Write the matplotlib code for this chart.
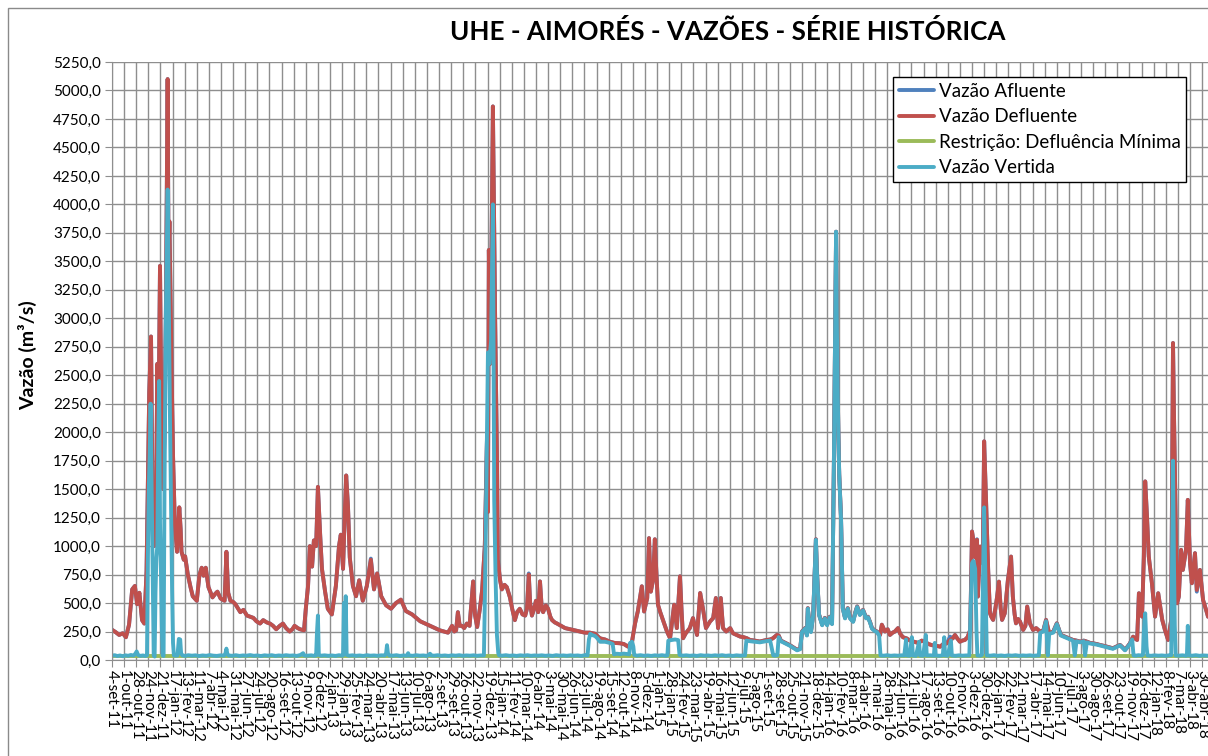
import matplotlib
matplotlib.use("Agg")
import matplotlib.pyplot as plt
from matplotlib.patches import Rectangle
from matplotlib.ticker import FuncFormatter

plt.rcParams['font.family'] = ['Lato', 'DejaVu Sans']

# dias contados a partir de 4-set-11 (primeiro dia da serie)
dia_vazao = [
    0, 8, 16, 24, 31, 38, 45, 51, 56, 61,
    67, 72, 77, 80, 83, 87, 90, 94, 98, 101,
    104, 107, 110, 114, 117, 120, 124, 126, 128, 131,
    133, 136, 140, 145, 150, 153, 155, 160, 163, 169,
    175, 180, 189, 195, 200, 204, 209, 215, 224, 230,
    235, 242, 251, 255, 259, 264, 270, 275, 286, 293,
    301, 308, 315, 322, 330, 337, 345, 352, 359, 366,
    374, 381, 388, 396, 402, 407, 414, 419, 428, 432,
    437, 441, 446, 450, 455, 459, 464, 468, 475, 481,
    490, 499, 506, 510, 515, 519, 522, 526, 530, 537,
    544, 551, 559, 568, 577, 584, 591, 600, 611, 622,
    633, 644, 655, 669, 687, 698, 709, 720, 731, 740,
    749, 758, 763, 767, 771, 775, 780, 785, 791, 797,
    805, 809, 814, 820, 825, 828, 831, 836, 838, 840,
    843, 845, 849, 854, 858, 860, 865, 869, 875, 880,
    887, 892, 898, 903, 909, 915, 921, 925, 929, 932,
    936, 941, 945, 950, 954, 958, 961, 967, 972, 977,
    981, 987, 992, 1001, 1010, 1021, 1032, 1043, 1054, 1065,
    1077, 1082, 1088, 1099, 1110, 1120, 1132, 1141, 1150, 1159,
    1166, 1172, 1181, 1186, 1193, 1197, 1201, 1206, 1210, 1213,
    1217, 1222, 1228, 1237, 1244, 1253, 1259, 1266, 1270, 1273,
    1279, 1288, 1295, 1304, 1311, 1317, 1324, 1333, 1340, 1346,
    1351, 1357, 1362, 1369, 1378, 1384, 1392, 1400, 1408, 1415,
    1422, 1433, 1444, 1458, 1467, 1473, 1482, 1486, 1491, 1496,
    1503, 1511, 1519, 1527, 1534, 1538, 1545, 1549, 1551, 1555,
    1558, 1563, 1569, 1571, 1576, 1583, 1589, 1594, 1600, 1605,
    1609, 1612, 1614, 1616, 1619, 1621, 1625, 1629, 1634, 1640,
    1645, 1652, 1657, 1661, 1667, 1674, 1681, 1685, 1690, 1694,
    1700, 1705, 1712, 1716, 1723, 1729, 1734, 1740, 1745, 1752,
    1757, 1763, 1771, 1779, 1788, 1797, 1805, 1812, 1820, 1828,
    1837, 1846, 1853, 1861, 1868, 1874, 1879, 1884, 1890, 1895,
    1901, 1907, 1913, 1917, 1921, 1925, 1928, 1930, 1935, 1941,
    1944, 1948, 1953, 1957, 1960, 1964, 1969, 1973, 1977, 1981,
    1984, 1990, 1997, 2004, 2008, 2012, 2015, 2020, 2024, 2031,
    2036, 2040, 2046, 2053, 2060, 2069, 2076, 2082, 2089, 2098,
    2106, 2115, 2124, 2133, 2142, 2150, 2158, 2166, 2173, 2180,
    2187, 2195, 2202, 2210, 2218, 2225, 2231, 2240, 2247, 2253,
    2258, 2264, 2269, 2276, 2280, 2285, 2289, 2296, 2300, 2303,
    2307, 2311, 2318, 2325, 2332, 2341, 2347, 2354, 2361, 2363,
    2365, 2367, 2369, 2374, 2378, 2383, 2387, 2394, 2398, 2403,
    2407, 2414, 2418, 2425, 2432, 2441, 2443,
]

vazao_defluente = [
    265, 245, 220, 235, 200, 310, 620, 650, 490, 590,
    350, 320, 780, 1590, 2350, 2840, 1500, 1000, 1300, 2600,
    2200, 3460, 2200, 1500, 2000, 3000, 5100, 3500, 3850, 3000,
    2500, 1800, 1200, 950, 1340, 1150, 950, 880, 910, 750,
    640, 560, 520, 750, 810, 740, 810, 640, 550, 580,
    600, 540, 520, 950, 590, 520, 510, 490, 420, 440,
    390, 380, 370, 340, 320, 350, 330, 320, 300, 270,
    300, 320, 280, 250, 270, 300, 280, 270, 260, 450,
    650, 1000, 820, 1050, 1000, 1520, 1100, 800, 600, 450,
    400, 650, 1000, 1100, 800, 1300, 1620, 1350, 900, 650,
    560, 700, 520, 650, 880, 620, 760, 560, 480, 450,
    500, 530, 430, 400, 340, 320, 300, 280, 260, 250,
    240, 300, 250, 260, 420, 300, 300, 280, 320, 300,
    690, 400, 290, 450, 610, 800, 1000, 1980, 1300, 3600,
    2600, 3200, 4860, 3000, 1800, 880, 700, 620, 660, 640,
    550, 450, 350, 420, 450, 400, 390, 450, 750, 500,
    390, 450, 520, 420, 690, 450, 420, 480, 450, 380,
    350, 330, 320, 300, 280, 270, 260, 250, 240, 240,
    230, 210, 190, 180, 160, 150, 147, 140, 118, 160,
    323, 426, 647, 426, 544, 1070, 600, 700, 1060, 800,
    485, 420, 353, 250, 191, 485, 280, 735, 400, 191,
    235, 280, 368, 220, 588, 456, 280, 338, 368, 544,
    280, 544, 280, 250, 280, 235, 220, 206, 200, 191,
    176, 170, 162, 175, 180, 190, 220, 215, 170, 160,
    145, 130, 110, 90, 100, 250, 280, 220, 455, 300,
    250, 400, 1060, 810, 400, 310, 370, 310, 380, 320,
    1690, 2900, 3760, 2870, 2000, 1630, 1250, 455, 370, 455,
    370, 340, 420, 470, 400, 440, 370, 380, 330, 280,
    260, 250, 220, 310, 250, 270, 220, 240, 250, 280,
    230, 200, 190, 170, 160, 150, 170, 160, 140, 130,
    125, 117, 140, 146, 176, 190, 220, 190, 160, 170,
    176, 200, 264, 1128, 1025, 900, 1055, 557, 996, 850,
    1920, 1435, 791, 410, 380, 352, 450, 557, 688, 450,
    352, 410, 703, 908, 557, 400, 322, 360, 337, 264,
    300, 469, 322, 264, 280, 249, 260, 352, 234, 249,
    322, 220, 205, 190, 176, 170, 161, 170, 161, 150,
    146, 140, 132, 125, 117, 110, 103, 120, 132, 110,
    88, 120, 146, 205, 190, 176, 586, 381, 900, 1568,
    1260, 908, 674, 381, 586, 352, 264, 176, 352, 1500,
    2783, 2200, 1729, 498, 557, 967, 791, 967, 1406, 850,
    674, 938, 615, 791, 527, 410, 380,
]

vazao_afluente = [
    265, 245, 220, 235, 200, 310, 620, 650, 490, 590,
    350, 320, 780, 1590, 2350, 2840, 1500, 1000, 1300, 2600,
    2200, 3460, 2200, 1500, 2000, 3000, 5100, 3500, 3850, 3000,
    2500, 1800, 1200, 950, 1340, 1150, 950, 880, 910, 750,
    640, 560, 520, 750, 810, 740, 810, 640, 550, 580,
    600, 540, 520, 950, 590, 520, 510, 490, 420, 440,
    390, 380, 370, 340, 320, 350, 330, 320, 300, 270,
    300, 320, 280, 250, 270, 300, 280, 270, 260, 450,
    650, 1000, 820, 1050, 1000, 1520, 1100, 800, 600, 450,
    400, 650, 1000, 1100, 800, 1300, 1620, 1350, 900, 650,
    560, 700, 520, 650, 890, 620, 760, 560, 480, 450,
    500, 530, 430, 400, 340, 320, 300, 280, 260, 250,
    240, 300, 250, 260, 420, 300, 300, 280, 320, 300,
    690, 400, 290, 450, 610, 800, 1000, 1980, 1300, 3600,
    2600, 3200, 4860, 3000, 1800, 880, 700, 620, 660, 640,
    550, 450, 350, 420, 450, 400, 390, 450, 760, 500,
    390, 450, 520, 420, 690, 450, 420, 480, 450, 380,
    350, 330, 320, 300, 280, 270, 260, 250, 240, 240,
    230, 210, 190, 180, 160, 150, 147, 140, 118, 160,
    323, 426, 647, 426, 544, 1070, 600, 700, 1060, 800,
    485, 420, 353, 250, 191, 485, 280, 735, 400, 191,
    235, 280, 368, 220, 588, 456, 280, 338, 368, 544,
    280, 544, 280, 250, 280, 235, 220, 206, 200, 191,
    176, 170, 162, 175, 180, 190, 220, 215, 170, 160,
    145, 130, 110, 90, 100, 250, 280, 220, 455, 300,
    250, 400, 1060, 810, 400, 310, 370, 310, 380, 320,
    1690, 2900, 3760, 2870, 2000, 1630, 1250, 455, 370, 455,
    370, 340, 420, 470, 400, 440, 370, 380, 330, 280,
    260, 250, 220, 310, 250, 270, 220, 240, 250, 280,
    230, 200, 190, 170, 160, 150, 170, 160, 140, 130,
    125, 117, 140, 146, 205, 190, 220, 190, 160, 170,
    176, 200, 264, 1128, 1025, 900, 1060, 557, 996, 850,
    1920, 1435, 791, 410, 380, 352, 450, 557, 688, 450,
    352, 410, 703, 908, 557, 400, 322, 360, 337, 264,
    300, 469, 322, 264, 280, 249, 260, 352, 234, 249,
    322, 220, 205, 190, 176, 170, 161, 170, 161, 150,
    146, 140, 132, 125, 117, 110, 103, 120, 132, 110,
    88, 120, 146, 205, 190, 176, 586, 381, 900, 1568,
    1260, 908, 674, 381, 586, 352, 264, 176, 352, 1500,
    2783, 2200, 1729, 498, 557, 967, 791, 967, 1406, 850,
    674, 938, 600, 791, 527, 410, 380,
]

dia_vertida = [
    0, 6, 12, 18, 24, 30, 36, 42, 48, 52,
    55, 58, 63, 69, 74, 78, 80, 82, 84, 86,
    88, 89, 91, 93, 95, 97, 99, 101, 103, 105,
    107, 109, 111, 113, 115, 117, 120, 122, 124, 126,
    127, 129, 132, 134, 136, 138, 142, 146, 149, 152,
    154, 157, 163, 170, 178, 186, 194, 202, 210, 218,
    226, 234, 242, 250, 253, 255, 257, 260, 268, 276,
    284, 292, 300, 308, 316, 324, 332, 340, 348, 356,
    364, 372, 380, 388, 396, 404, 412, 420, 426, 428,
    436, 444, 450, 455, 457, 459, 461, 466, 474, 482,
    490, 498, 506, 512, 515, 517, 519, 521, 523, 528,
    536, 544, 552, 560, 568, 576, 584, 592, 600, 608,
    611, 613, 615, 618, 626, 634, 642, 650, 658, 660,
    662, 670, 678, 686, 694, 702, 709, 711, 718, 726,
    734, 742, 750, 758, 766, 774, 782, 790, 798, 806,
    814, 822, 829, 831, 834, 838, 841, 845, 849, 852,
    855, 858, 861, 863, 870, 878, 886, 894, 902, 910,
    918, 926, 934, 942, 950, 958, 966, 974, 982, 990,
    998, 1006, 1014, 1022, 1030, 1038, 1046, 1054, 1060, 1063,
    1066, 1070, 1077, 1082, 1088, 1099, 1110, 1116, 1119, 1125,
    1133, 1141, 1150, 1153, 1155, 1159, 1162, 1164, 1170, 1178,
    1186, 1194, 1202, 1210, 1218, 1226, 1234, 1238, 1240, 1248,
    1255, 1262, 1265, 1272, 1280, 1288, 1296, 1304, 1312, 1320,
    1328, 1336, 1344, 1352, 1360, 1368, 1376, 1384, 1392, 1400,
    1408, 1411, 1414, 1422, 1433, 1444, 1458, 1467, 1474, 1478,
    1483, 1486, 1491, 1496, 1503, 1511, 1519, 1527, 1534, 1538,
    1545, 1549, 1551, 1555, 1558, 1563, 1569, 1571, 1576, 1583,
    1589, 1594, 1600, 1605, 1609, 1612, 1614, 1616, 1619, 1621,
    1625, 1629, 1634, 1640, 1645, 1652, 1657, 1661, 1667, 1674,
    1681, 1685, 1690, 1694, 1700, 1705, 1710, 1713, 1720, 1728,
    1736, 1744, 1752, 1760, 1766, 1770, 1772, 1778, 1783, 1785,
    1792, 1799, 1801, 1808, 1814, 1816, 1824, 1832, 1834, 1836,
    1844, 1852, 1855, 1857, 1863, 1870, 1872, 1880, 1888, 1896,
    1904, 1911, 1913, 1917, 1920, 1924, 1927, 1929, 1936, 1939,
    1941, 1944, 1946, 1948, 1950, 1958, 1966, 1974, 1982, 1990,
    1998, 2006, 2014, 2022, 2030, 2038, 2046, 2054, 2062, 2066,
    2069, 2076, 2082, 2086, 2089, 2098, 2106, 2115, 2124, 2133,
    2142, 2146, 2150, 2158, 2166, 2169, 2173, 2180, 2187, 2195,
    2202, 2210, 2218, 2225, 2231, 2240, 2247, 2253, 2258, 2264,
    2269, 2274, 2277, 2282, 2288, 2294, 2298, 2300, 2303, 2306,
    2308, 2316, 2324, 2332, 2340, 2348, 2356, 2361, 2363, 2365,
    2367, 2369, 2371, 2378, 2386, 2394, 2396, 2398, 2400, 2408,
    2416, 2424, 2432, 2443,
]

vazao_vertida = [
    38, 42, 35, 40, 33, 41, 37, 44, 39, 55,
    75, 45, 36, 40, 35, 40, 900, 1500, 1800, 2250,
    1600, 1200, 600, 40, 30, 600, 900, 1000, 1900, 2450,
    1200, 800, 300, 40, 35, 1500, 3000, 3600, 4130, 3400,
    3000, 2200, 1200, 600, 150, 40, 38, 40, 185, 180,
    60, 40, 36, 42, 38, 41, 35, 40, 37, 43,
    38, 36, 41, 39, 60, 100, 55, 40, 37, 42,
    36, 40, 38, 43, 37, 40, 35, 41, 38, 42,
    36, 40, 37, 42, 38, 40, 36, 44, 60, 40,
    38, 41, 37, 40, 250, 390, 45, 38, 41, 37,
    40, 36, 42, 38, 40, 500, 200, 560, 45, 38,
    41, 37, 40, 36, 42, 38, 40, 37, 41, 40,
    60, 130, 60, 40, 38, 42, 36, 40, 38, 60,
    40, 37, 42, 38, 40, 36, 55, 40, 38, 42,
    37, 40, 36, 41, 38, 42, 37, 40, 38, 41,
    37, 40, 40, 500, 1400, 2700, 2600, 2800, 4000, 1400,
    720, 220, 60, 40, 38, 42, 37, 40, 36, 41,
    38, 42, 37, 40, 38, 41, 37, 40, 36, 42,
    38, 40, 37, 41, 38, 40, 36, 42, 40, 180,
    230, 220, 210, 190, 160, 160, 150, 140, 50, 55,
    52, 56, 52, 50, 150, 160, 120, 45, 38, 42,
    37, 40, 36, 41, 38, 42, 37, 40, 170, 176,
    180, 175, 45, 38, 41, 37, 40, 36, 42, 38,
    40, 37, 41, 38, 42, 37, 40, 36, 41, 38,
    40, 40, 170, 165, 160, 155, 165, 170, 40, 38,
    42, 200, 165, 155, 140, 125, 105, 85, 95, 245,
    275, 215, 450, 295, 245, 395, 1055, 800, 395, 305,
    365, 305, 375, 315, 1680, 2890, 3760, 2860, 1990, 1620,
    1240, 450, 365, 450, 365, 335, 415, 465, 395, 435,
    365, 375, 325, 275, 255, 245, 215, 40, 38, 42,
    37, 40, 38, 41, 40, 180, 40, 38, 200, 40,
    37, 160, 40, 38, 220, 40, 41, 38, 150, 40,
    37, 41, 200, 40, 38, 170, 40, 37, 41, 38,
    40, 40, 300, 850, 870, 800, 250, 40, 38, 45,
    600, 1340, 900, 500, 40, 38, 42, 37, 40, 36,
    41, 38, 42, 37, 40, 38, 41, 37, 40, 40,
    240, 250, 340, 40, 230, 240, 315, 215, 200, 185,
    170, 40, 165, 155, 165, 40, 155, 145, 140, 135,
    128, 120, 112, 105, 98, 115, 128, 105, 85, 115,
    140, 180, 40, 38, 42, 40, 45, 250, 410, 120,
    40, 37, 41, 38, 40, 37, 41, 42, 900, 1750,
    900, 300, 40, 38, 41, 37, 40, 300, 40, 38,
    42, 37, 40, 38,
]

dia_restricao = [0, 2443]
restricao_minima = [32, 32]

rotulos = [
    "4-set-11", "1-out-11", "28-out-11", "24-nov-11", "21-dez-11", "17-jan-12", "13-fev-12", "11-mar-12", "7-abr-12", "4-mai-12",
    "31-mai-12", "27-jun-12", "24-jul-12", "20-ago-12", "16-set-12", "13-out-12", "9-nov-12", "6-dez-12", "2-jan-13", "29-jan-13",
    "25-fev-13", "24-mar-13", "20-abr-13", "17-mai-13", "13-jun-13", "10-jul-13", "6-ago-13", "2-set-13", "29-set-13", "26-out-13",
    "22-nov-13", "19-dez-13", "15-jan-14", "11-fev-14", "10-mar-14", "6-abr-14", "3-mai-14", "30-mai-14", "26-jun-14", "23-jul-14",
    "19-ago-14", "15-set-14", "12-out-14", "8-nov-14", "5-dez-14", "1-jan-15", "28-jan-15", "24-fev-15", "23-mar-15", "19-abr-15",
    "16-mai-15", "12-jun-15", "9-jul-15", "5-ago-15", "1-set-15", "28-set-15", "25-out-15", "21-nov-15", "18-dez-15", "14-jan-16",
    "10-fev-16", "8-mar-16", "4-abr-16", "1-mai-16", "28-mai-16", "24-jun-16", "21-jul-16", "17-ago-16", "13-set-16", "10-out-16",
    "6-nov-16", "3-dez-16", "30-dez-16", "26-jan-17", "22-fev-17", "21-mar-17", "17-abr-17", "14-mai-17", "10-jun-17", "7-jul-17",
    "3-ago-17", "30-ago-17", "26-set-17", "23-out-17", "19-nov-17", "16-dez-17", "12-jan-18", "8-fev-18", "7-mar-18", "3-abr-18",
    "30-abr-18",
]

fig = plt.figure(figsize=(12.08, 7.56), dpi=100)
ax = fig.add_axes([112 / 1208, 96 / 756, 1096 / 1208, 598 / 756])

estilo = dict(lw=2.8, solid_joinstyle='round', solid_capstyle='round')
ax.plot(dia_vazao, vazao_afluente, color='#4F81BD', label='Vazão Afluente', **estilo)
ax.plot(dia_vazao, vazao_defluente, color='#C0504D', label='Vazão Defluente', **estilo)
ax.plot(dia_restricao, restricao_minima, color='#9BBB59', label='Restrição: Defluência Mínima', **estilo)
ax.plot(dia_vertida, vazao_vertida, color='#4BACC6', label='Vazão Vertida', **estilo)

ax.set_xlim(0, 2443)
ax.set_ylim(0, 5250)
ax.set_yticks(range(0, 5251, 250))
ax.yaxis.set_major_formatter(FuncFormatter(lambda v, p: f"{v:.1f}".replace('.', ',')))
ax.set_xticks(range(0, 27 * len(rotulos), 27))
ax.set_xticklabels(rotulos, rotation=270, ha='center', va='top')

ax.grid(True, color='#8e8e8e', lw=1.0)
ax.set_axisbelow(True)
ax.tick_params(axis='x', direction='out', length=5, color='#8e8e8e', labelsize=11, pad=2)
ax.tick_params(axis='y', direction='out', length=5, color='#8e8e8e', labelsize=11, pad=3)
ax.spines['top'].set_visible(False)
ax.spines['right'].set_visible(False)
ax.spines['left'].set_color('#8e8e8e')
ax.spines['bottom'].set_color('#8e8e8e')

leg = ax.legend(loc='upper left', bbox_to_anchor=(0.7126, 0.975), fontsize=13.5,
                fancybox=False, edgecolor='black', framealpha=1, borderpad=0.3,
                labelspacing=0.46, handlelength=1.9, handletextpad=0.25, borderaxespad=0)
leg.get_frame().set_linewidth(1.0)

fig.text(728 / 1208, 1 - 32 / 756, 'UHE - AIMORÉS - VAZÕES - SÉRIE HISTÓRICA',
         ha='center', va='center', fontsize=18.75, weight='bold')
fig.text(28 / 1208, 1 - 355 / 756, 'Vazão (m³/s)', rotation=90,
         ha='center', va='center', fontsize=14, weight='bold')

fig.patches.append(Rectangle((8 / 1208, -0.05), 1.1, 1.05 - 8 / 756, transform=fig.transFigure,
                             fill=False, edgecolor='#8a8a8a', lw=1))

fig.savefig('out.png', dpi=100)
